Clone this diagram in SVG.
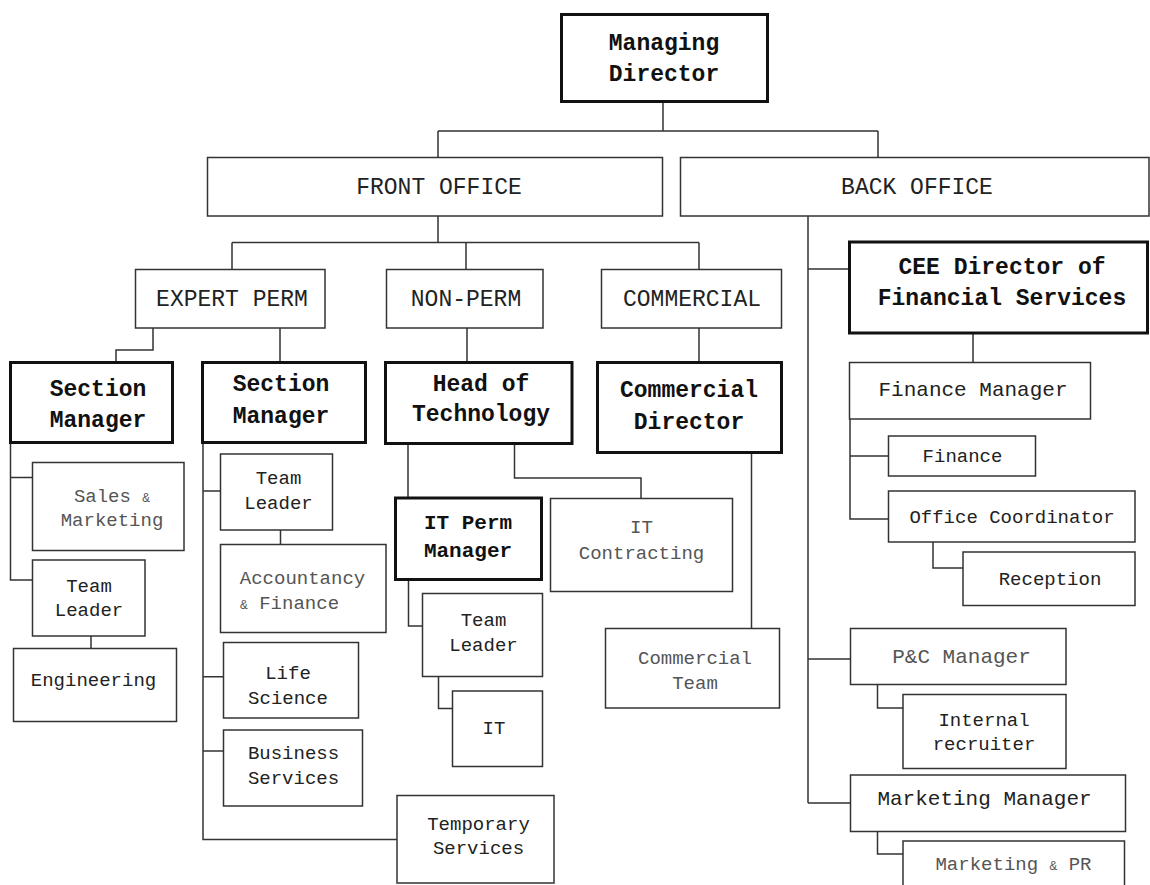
<svg xmlns="http://www.w3.org/2000/svg" width="1150" height="885" viewBox="0 0 1150 885">
<style>
.box{fill:#fff;stroke:#333;stroke-width:1.5}
.thick{fill:#fff;stroke:#111;stroke-width:3}
.con{fill:none;stroke:#333;stroke-width:1.5}
text{font-family:"Liberation Mono","Courier New",monospace;text-anchor:middle}
.b{font-weight:bold;font-size:23px;fill:#111}
.h{font-size:23px;fill:#222}
.m{font-size:21px;fill:#222}
.r{font-size:19px;fill:#222}
.g{font-size:19px;fill:#555}
.gm{font-size:21px;fill:#555}
.amp{font-size:13px}
</style>
<rect width="1150" height="885" fill="#fff"/>
<g id="connectors">
<path class="con" d="M663,101 V131 M438,131 H878 M438,131 V157.5 M878,131 V157.5"/>
<path class="con" d="M438,216 V242.5 M232,242.5 H699 M232,242.5 V269.5 M466,242.5 V269.5 M699,242.5 V269.5"/>
<path class="con" d="M808,216 V803 M808,269 H849.5 M808,659 H850.5 M808,803 H850.5"/>
<path class="con" d="M153,328 V350 H116 V362.5 M280,328 V362.5 M467,328 V362.5 M699,328 V362.5"/>
<path class="con" d="M10.5,442.5 V580 H32.5 M10.5,477.5 H32.5 M91,636 V648.5"/>
<path class="con" d="M203,442.5 V839.5 H397 M203,491 H220.5 M203,676.7 H223.5 M203,751 H223.5 M280.5,530 V544.5"/>
<path class="con" d="M408,443.5 V497.5 M514.5,443.5 V478 H641 V498.5 M408.5,580 V626 H422.5 M438.5,676.5 V708.5 H452.5"/>
<path class="con" d="M751.5,452.5 V628.5"/>
<path class="con" d="M973,333 V362.5 M850,419 V519 H888.5 M850,456 H888.5 M933,542 V568 H963 M877.5,684.5 V708 H903 M877.5,831.5 V854 H903"/>
</g>
<g id="managing-director"><rect class="thick" x="561.5" y="14.5" width="206" height="87"/><text class="b" x="664" y="50">Managing</text><text class="b" x="664" y="81">Director</text></g>
<g id="front-office"><rect class="box" x="207.5" y="157.5" width="455" height="58.5"/><text class="h" x="439" y="194">FRONT OFFICE</text></g>
<g id="back-office"><rect class="box" x="680.5" y="157.5" width="468.5" height="58.5"/><text class="h" x="917" y="193.5">BACK OFFICE</text></g>
<g id="expert-perm"><rect class="box" x="135.5" y="269.5" width="189.5" height="58.5"/><text class="h" x="232" y="306">EXPERT PERM</text></g>
<g id="non-perm"><rect class="box" x="386.5" y="269.5" width="156.5" height="58.5"/><text class="h" x="466" y="306">NON-PERM</text></g>
<g id="commercial"><rect class="box" x="601.5" y="269.5" width="180" height="58.5"/><text class="h" x="692" y="306">COMMERCIAL</text></g>
<g id="cee-director"><rect class="thick" x="849.5" y="242" width="298" height="91"/><text class="b" x="1002" y="274">CEE Director of</text><text class="b" x="1002" y="305">Financial Services</text></g>
<g id="section-manager-1"><rect class="thick" x="10.5" y="362.5" width="162" height="80"/><text class="b" x="98" y="396">Section</text><text class="b" x="98" y="427">Manager</text></g>
<g id="section-manager-2"><rect class="thick" x="202.5" y="362.5" width="163" height="80"/><text class="b" x="281" y="391">Section</text><text class="b" x="281" y="422.5">Manager</text></g>
<g id="head-of-technology"><rect class="thick" x="385.5" y="362.5" width="186.5" height="81"/><text class="b" x="481" y="391">Head of</text><text class="b" x="481" y="421">Technology</text></g>
<g id="commercial-director"><rect class="thick" x="597.5" y="362.5" width="184" height="90"/><text class="b" x="689" y="397">Commercial</text><text class="b" x="689" y="428.5">Director</text></g>
<g id="finance-manager"><rect class="box" x="849.5" y="362.5" width="241" height="56.5"/><text class="m" x="973" y="396">Finance Manager</text></g>
<g id="finance"><rect class="box" x="888.5" y="436" width="147" height="40"/><text class="r" x="962.5" y="462">Finance</text></g>
<g id="office-coordinator"><rect class="box" x="888.5" y="491" width="246.5" height="51"/><text class="r" x="1012" y="522.5">Office Coordinator</text></g>
<g id="reception"><rect class="box" x="963" y="552" width="172" height="53.5"/><text class="r" x="1050" y="585">Reception</text></g>
<g id="sales-marketing"><rect class="box" x="32.5" y="462.5" width="151.5" height="88"/><text class="g" x="112" y="502">Sales <tspan class="amp">&amp;</tspan></text><text class="g" x="112" y="526">Marketing</text></g>
<g id="team-leader-sm2"><rect class="box" x="220.5" y="454" width="112" height="76"/><text class="r" x="278.5" y="484">Team</text><text class="r" x="278.5" y="508.5">Leader</text></g>
<g id="accountancy-finance"><rect class="box" x="220.5" y="544.5" width="165.5" height="88"/><text class="g" x="302.5" y="583.5">Accountancy</text><text class="g" x="240" y="608.5" style="text-anchor:start"><tspan class="amp">&amp;</tspan> Finance</text></g>
<g id="it-perm-manager"><rect class="thick" x="395.5" y="498" width="146" height="81.5"/><text class="b" x="468" y="528.5" style="font-size:21px">IT Perm</text><text class="b" x="468" y="557" style="font-size:21px">Manager</text></g>
<g id="it-contracting"><rect class="box" x="550.5" y="498.5" width="182" height="93"/><text class="g" x="641.5" y="533">IT</text><text class="g" x="641.5" y="558.5">Contracting</text></g>
<g id="team-leader-sm1"><rect class="box" x="32.5" y="560" width="112.5" height="76"/><text class="r" x="89" y="592">Team</text><text class="r" x="89" y="616">Leader</text></g>
<g id="engineering"><rect class="box" x="13.5" y="648.5" width="163" height="73"/><text class="r" x="93.5" y="686">Engineering</text></g>
<g id="life-science"><rect class="box" x="223.5" y="642.5" width="135" height="75.5"/><text class="r" x="288" y="678.5">Life</text><text class="r" x="288" y="703.5">Science</text></g>
<g id="team-leader-it"><rect class="box" x="422.5" y="593.5" width="120" height="83"/><text class="r" x="483.5" y="626">Team</text><text class="r" x="483.5" y="651">Leader</text></g>
<g id="it"><rect class="box" x="452.5" y="691" width="90" height="75.5"/><text class="r" x="494" y="733.5">IT</text></g>
<g id="commercial-team"><rect class="box" x="605.5" y="628.5" width="174" height="79.5"/><text class="g" x="695" y="663.5">Commercial</text><text class="g" x="695" y="688.5">Team</text></g>
<g id="pc-manager"><rect class="box" x="850.5" y="628.5" width="215.5" height="56"/><text class="gm" x="961.5" y="663">P&amp;C Manager</text></g>
<g id="internal-recruiter"><rect class="box" x="903" y="694.5" width="163" height="74"/><text class="r" x="984" y="726">Internal</text><text class="r" x="984" y="750">recruiter</text></g>
<g id="business-services"><rect class="box" x="223.5" y="730" width="139" height="76"/><text class="r" x="293.5" y="758.5">Business</text><text class="r" x="293.5" y="783.5">Services</text></g>
<g id="marketing-manager"><rect class="box" x="850.5" y="775" width="275" height="56.5"/><text class="m" x="984.5" y="805">Marketing Manager</text></g>
<g id="marketing-pr"><rect class="box" x="903" y="841" width="221.5" height="60"/><text class="g" x="1013.5" y="869.5">Marketing <tspan class="amp">&amp;</tspan> PR</text></g>
<g id="temporary-services"><rect class="box" x="397" y="795.5" width="157" height="87.5"/><text class="r" x="478.5" y="830">Temporary</text><text class="r" x="478.5" y="854">Services</text></g>
</svg>
